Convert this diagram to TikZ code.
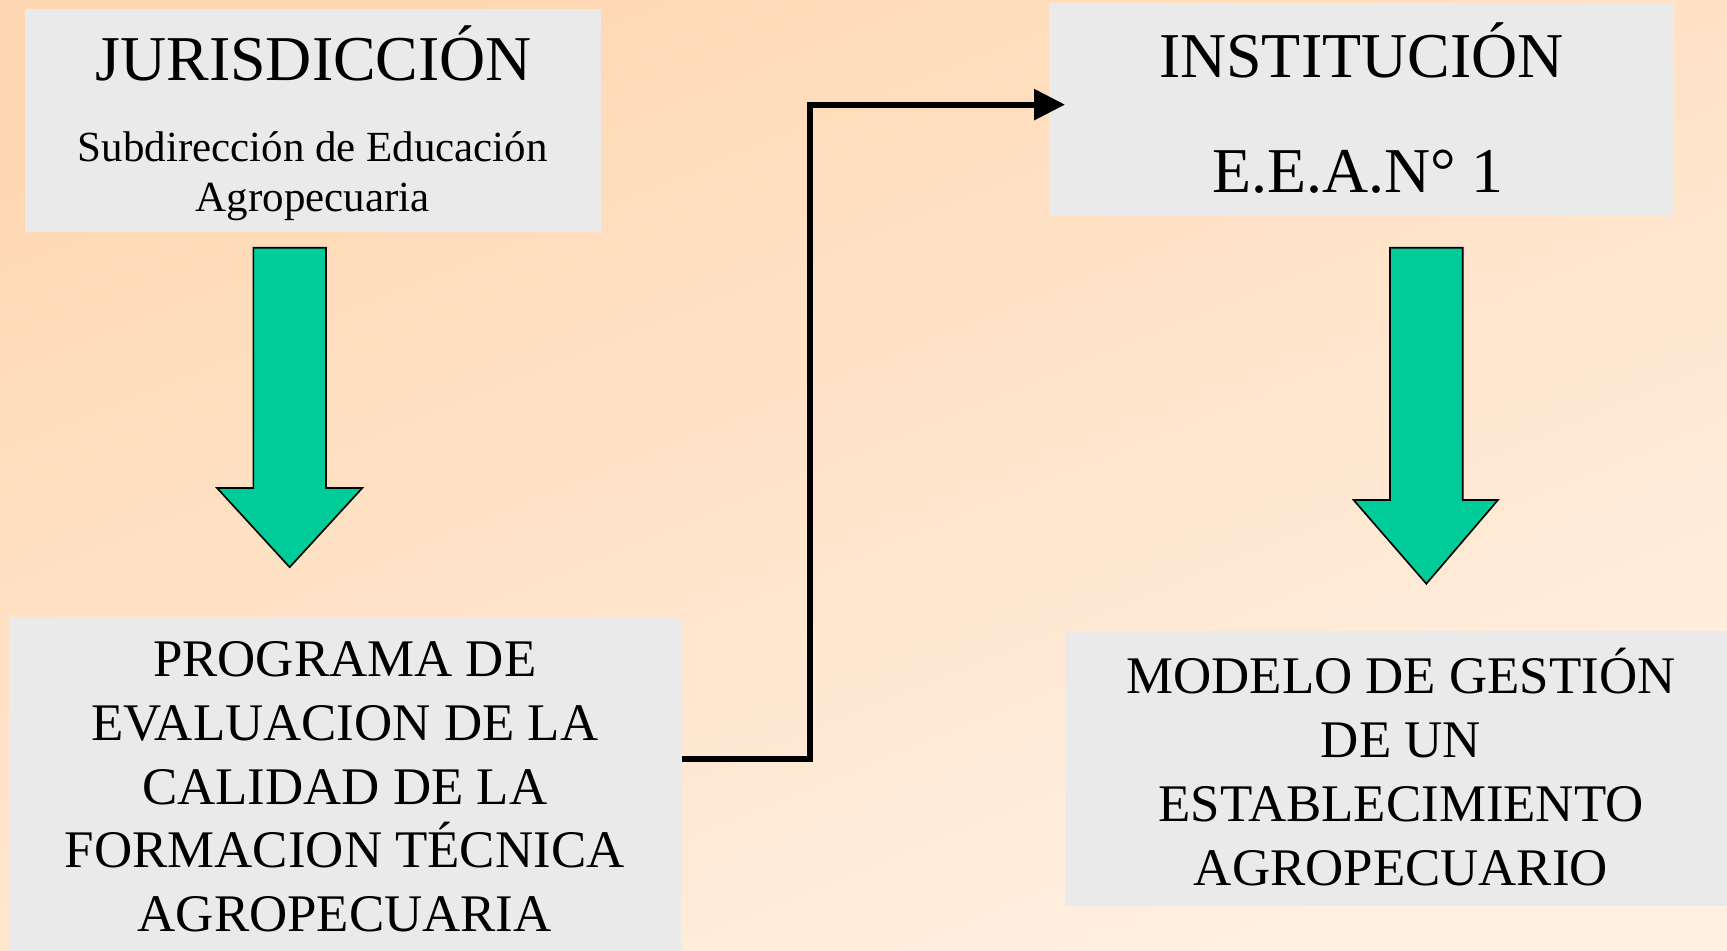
\documentclass[tikz,border=0pt]{standalone}
\usepackage{fontspec}
\setmainfont{Liberation Serif}
\usetikzlibrary{arrows.meta}
\definecolor{boxgray}{HTML}{EAEAEA}
\definecolor{arrowgreen}{HTML}{00CC99}
\definecolor{bgdark}{HTML}{FFD8B3}
\definecolor{bglight}{HTML}{FFF0E2}
\begin{document}
\begin{tikzpicture}[x=1pt,y=-1pt,
  box/.style={fill=boxgray, draw=none, inner sep=0pt, outer sep=0pt, anchor=north west},
  bigtxt/.style={anchor=base, inner sep=0pt, font=\fontsize{58}{70}\selectfont},
  midtxt/.style={anchor=base, inner sep=0pt, font=\fontsize{48}{58}\selectfont},
  smalltxt/.style={anchor=base, inner sep=0pt, font=\fontsize{39}{45}\selectfont},
  garrow/.style={fill=arrowgreen, draw=black, line width=1.5pt, line join=miter},
  conn/.style={draw=black, line width=5.5pt, -{Triangle[length=28pt,width=27pt]}}
]
\useasboundingbox (0,0) rectangle (1568,863);
\shade[top color=bgdark, bottom color=bglight, shading angle=22] (0pt,0pt) rectangle (1568pt,-863pt);

% boxes
\node[box, minimum width=523pt, minimum height=203pt] (jur) at (23,8) {};
\node[box, minimum width=568pt, minimum height=192pt] (inst) at (952,3) {};
\node[box, minimum width=611pt, minimum height=303pt] (prog) at (8,560) {};
\node[box, minimum width=601pt, minimum height=250pt] (model) at (967,573) {};

% texts
\node[bigtxt] (jurT) at (285,73) {JURISDICCIÓN};
\node[smalltxt] (jurS1) at (284,147) {Subdirección de Educación};
\node[smalltxt] (jurS2) at (284,192) {Agropecuaria};

\node[bigtxt] (instT) at (1236,70) {INSTITUCIÓN};
\node[bigtxt] (instS) at (1233,175) {E.E.A.N° 1};

\node[midtxt] (p1) at (313,614) {PROGRAMA DE};
\node[midtxt] (p2) at (313,672) {EVALUACION DE LA};
\node[midtxt] (p3) at (313,730) {CALIDAD DE LA};
\node[midtxt] (p4) at (313,788) {FORMACION TÉCNICA};
\node[midtxt] (p5) at (313,846) {AGROPECUARIA};

\node[midtxt] (m1) at (1272,630) {MODELO DE GESTIÓN};
\node[midtxt] (m2) at (1272,688) {DE UN};
\node[midtxt] (m3) at (1272,746) {ESTABLECIMIENTO};
\node[midtxt] (m4) at (1272,804) {AGROPECUARIO};

% green arrows
\draw[garrow] (230,225) -- (296,225) -- (296,443) -- (329,443) -- (263,515) -- (197,443) -- (230,443) -- cycle;
\draw[garrow] (1262,225) -- (1328,225) -- (1328,454) -- (1360,454) -- (1295,530) -- (1229,454) -- (1262,454) -- cycle;

% connector
\coordinate (cLow) at (735,689);
\coordinate (cHigh) at (735,95);
\coordinate (cTip) at (967,95);
\draw[conn] (prog.east |- cLow) -- (cLow) -- (cHigh) -- (cTip);
\end{tikzpicture}
\end{document}
